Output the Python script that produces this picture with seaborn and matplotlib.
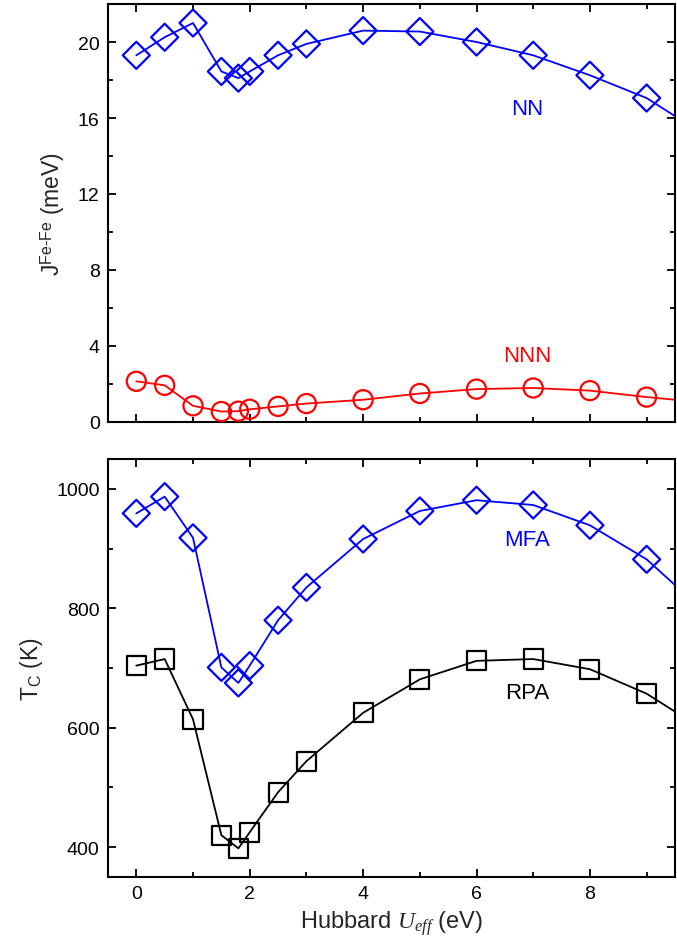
import matplotlib
matplotlib.use("Agg")
import matplotlib.pyplot as plt
from matplotlib.ticker import MultipleLocator
import seaborn as sns
import pandas as pd

# ---------------- data ----------------
u_pts = [0, 0.5, 1, 1.5, 1.8, 2, 2.5, 3, 4, 5, 6, 7, 8, 9]
j_nn = [19.3, 20.25, 21.0, 18.45, 18.1, 18.45, 19.3, 19.9, 20.6, 20.55, 20.0, 19.3, 18.25, 17.05]
j_nnn = [2.14, 1.93, 0.85, 0.55, 0.57, 0.67, 0.82, 0.97, 1.17, 1.50, 1.73, 1.79, 1.65, 1.31]
tc_mfa = [959, 987, 918, 701, 675, 704, 780, 835, 916, 963, 981, 973, 939, 882]
tc_rpa = [704, 715, 614, 420, 398, 425, 492, 544, 625, 681, 712, 715, 698, 657]

# curve continuation to the right edge of the frame
u_end = 9.5
j_nn_end = 16.1
j_nnn_end = 1.17
tc_mfa_end = 839
tc_rpa_end = 627

xticks = [0, 2, 4, 6, 8]
labels_top = ["NN", "NNN"]
labels_bot = ["MFA", "RPA"]

# ---------------- style ----------------
sns.set_theme(style="ticks")
plt.rcParams["font.family"] = ["Liberation Sans", "DejaVu Sans"]
plt.rcParams["mathtext.fontset"] = "custom"
plt.rcParams["mathtext.rm"] = "Liberation Sans"
plt.rcParams["mathtext.it"] = "Liberation Serif:italic"
plt.rcParams["mathtext.bf"] = "Liberation Sans:bold"

fig = plt.figure(figsize=(6.77, 9.45), dpi=100)
ax1 = fig.add_axes([0.1595, 0.5524, 0.8375, 0.4423])
ax2 = fig.add_axes([0.1595, 0.0709, 0.8375, 0.4423])


def series(ax, y, yend, color, marker, size):
    line = pd.DataFrame({"u": u_pts + [u_end], "v": y + [yend]})
    sns.lineplot(data=line, x="u", y="v", ax=ax, color=color, lw=1.3,
                 sort=False, estimator=None)
    pts = pd.DataFrame({"u": u_pts, "v": y})
    sns.scatterplot(data=pts, x="u", y="v", ax=ax, marker=marker, s=size,
                    facecolors="none", edgecolors=color, linewidth=1.6,
                    zorder=3, clip_on=False)


series(ax1, j_nn, j_nn_end, "#0000ff", "D", 190)
series(ax1, j_nnn, j_nnn_end, "#ff0000", "o", 190)
series(ax2, tc_mfa, tc_mfa_end, "#0000ff", "D", 190)
series(ax2, tc_rpa, tc_rpa_end, "#000000", "s", 190)

ax1.set_ylim(0, 22)
ax2.set_ylim(350, 1050)
for ax in (ax1, ax2):
    ax.set_xlim(-0.5, 9.5)
    ax.set_xticks(xticks)
    ax.xaxis.set_minor_locator(MultipleLocator(1))
    ax.tick_params(which="both", direction="in", top=True, right=True,
                   width=1.3, labelsize=14, colors="black", pad=6)
    ax.tick_params(which="major", length=6)
    ax.tick_params(which="minor", length=3.5)
    for s in ax.spines.values():
        s.set_linewidth(1.5)
        s.set_color("black")
    ax.set_xlabel("")

ax1.set_yticks([0, 4, 8, 12, 16, 20])
ax1.yaxis.set_minor_locator(MultipleLocator(2))
ax1.tick_params(labelbottom=False)
ax2.set_yticks([400, 600, 800, 1000])
ax2.yaxis.set_minor_locator(MultipleLocator(100))

ax1.set_ylabel(r"J$^{\mathrm{Fe\text{-}Fe}}$ (meV)", fontsize=16.5, labelpad=8)
ax2.set_ylabel(r"T$_{\mathrm{C}}$ (K)", fontsize=16.5, labelpad=8)
ax2.set_xlabel(r"Hubbard $U_{eff}$ (eV)", fontsize=17, labelpad=4)

ax1.text(6.9, 16.5, labels_top[0], color="#0000ff", fontsize=16, ha="center", va="center")
ax1.text(6.9, 3.5, labels_top[1], color="#ff0000", fontsize=16, ha="center", va="center")
ax2.text(6.9, 915, labels_bot[0], color="#0000ff", fontsize=16, ha="center", va="center")
ax2.text(6.9, 659, labels_bot[1], color="#000000", fontsize=16, ha="center", va="center")

fig.savefig("out.png", dpi=100)
